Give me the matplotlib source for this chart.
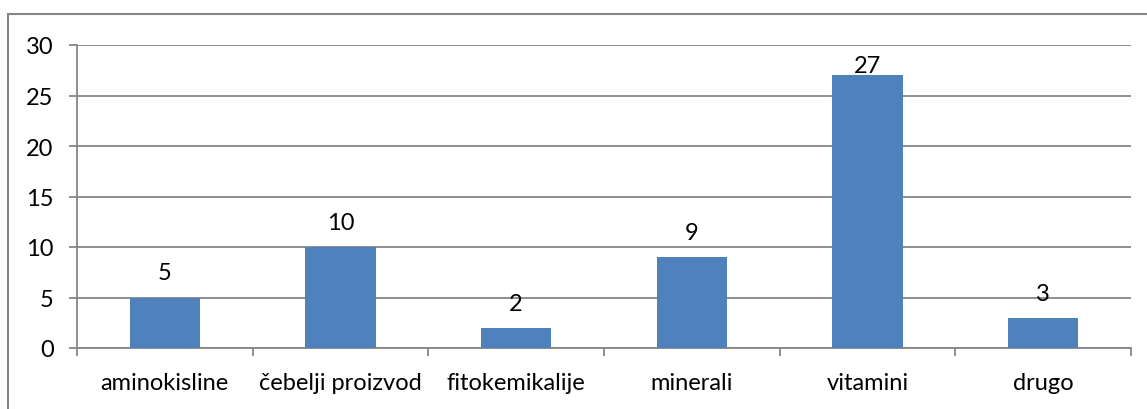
import matplotlib.pyplot as plt
from matplotlib.patches import Rectangle

categories = ["aminokisline", "čebelji proizvod", "fitokemikalije", "minerali", "vitamini", "drugo"]
values = [5, 10, 2, 9, 27, 3]
y_ticks = [0, 5, 10, 15, 20, 25, 30]

plt.rcParams["font.family"] = ["Lato", "DejaVu Sans"]
grey = "#868686"
fs = 17

fig = plt.figure(figsize=(11.47, 4.10), dpi=100)
ax = fig.add_axes([77 / 1147, 1 - 349 / 410, (1131 - 77) / 1147, (349 - 46) / 410])

"""outer chart border"""
fig.patches.append(Rectangle((8 / 1147, -0.1), 1.2, 1 - 15 / 410 + 0.1, transform=fig.transFigure,
                             fill=False, edgecolor=grey, linewidth=1.5))

x = list(range(len(categories)))
ax.bar(x, values, width=0.4, color="#4F81BD", zorder=3)
for xi, v in zip(x, values):
    ax.text(xi, v + 1.4 if v < 20 else v - 0.1, str(v), ha="center", va="bottom", fontsize=fs)

ax.set_xlim(-0.5, len(categories) - 0.5)
ax.set_ylim(0, 30)
ax.set_yticks(y_ticks)
ax.yaxis.grid(True, color=grey, linewidth=1.3)
ax.set_axisbelow(True)
ax.tick_params(axis="y", length=5.8, width=1.3, color=grey, labelsize=fs, pad=11)

ax.set_xticks([i - 0.5 for i in range(len(categories) + 1)])
ax.set_xticklabels([])
ax.set_xticks(x, minor=True)
ax.set_xticklabels(categories, minor=True)
ax.tick_params(axis="x", which="major", length=5.8, width=1.3, color=grey)
ax.tick_params(axis="x", which="minor", length=0, labelsize=fs, pad=17)

for side in ["top", "right"]:
    ax.spines[side].set_visible(False)
for side in ["left", "bottom"]:
    ax.spines[side].set_color(grey)
    ax.spines[side].set_linewidth(1.3)

fig.savefig("out.png", dpi=100)
